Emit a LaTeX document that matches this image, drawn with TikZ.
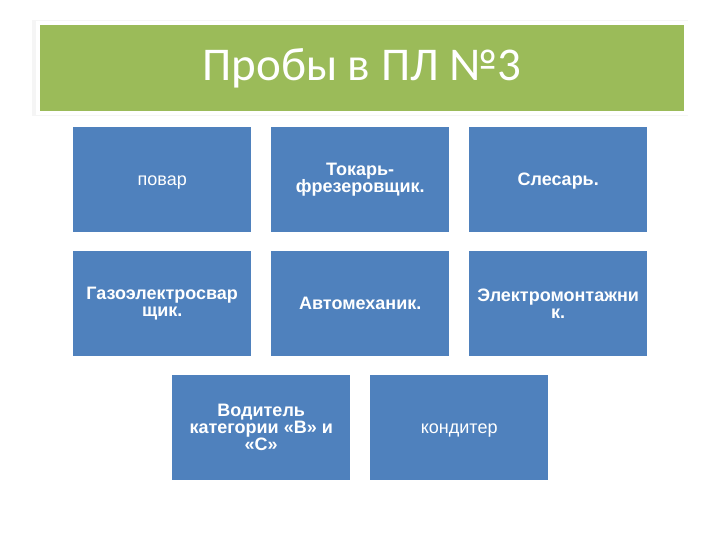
\documentclass[tikz,border=0pt]{standalone}
\usepackage{fontspec}
\setmainfont{Liberation Sans}
\newfontfamily\titlefont{Carlito}
\definecolor{titlegreen}{HTML}{9BBB59}
\definecolor{boxblue}{HTML}{4F81BD}
\tikzset{
  cell/.style={fill=boxblue, draw=none, minimum width=178pt, minimum height=105pt, anchor=north west, inner sep=0pt, text=white, align=center, font=\fontsize{18}{17}\selectfont},
  bcell/.style={cell, font=\fontsize{18}{17}\selectfont\bfseries},
  oneline/.style={text height=16.3pt, text depth=3.8pt}
}
\begin{document}
\begin{tikzpicture}[x=1pt,y=-1pt]
\useasboundingbox (0,0) rectangle (720,540);
\fill[white] (0,0) rectangle (720,540);
\fill[black!8] (33,21) rectangle (687,115);
\fill[black!4] (32,20) rectangle (688,116);
\node[fill=titlegreen, draw=white, line width=4pt, minimum width=648pt, minimum height=90pt, anchor=north west, inner sep=0pt, text=white, text height=26pt, text depth=0pt, font=\titlefont\fontsize{47}{50}\selectfont] (title) at (36,21) {Пробы в ПЛ №3};
\node[cell, oneline] (a) at (73,127) {повар};
\node[bcell] (b) at (271,127) {Токарь-\\фрезеровщик.};
\node[bcell, oneline] (c) at (469,127) {Слесарь.};
\node[bcell] (d) at (73,251) {Газоэлектросвар\\щик.};
\node[bcell, oneline] (e) at (271,251) {Автомеханик.};
\node[bcell] (f) at (469,251) {Электромонтажни\\к.};
\node[bcell] (g) at (172,375) {Водитель\\категории «В» и\\«С»};
\node[cell, oneline] (h) at (370,375) {кондитер};
\end{tikzpicture}
\end{document}
